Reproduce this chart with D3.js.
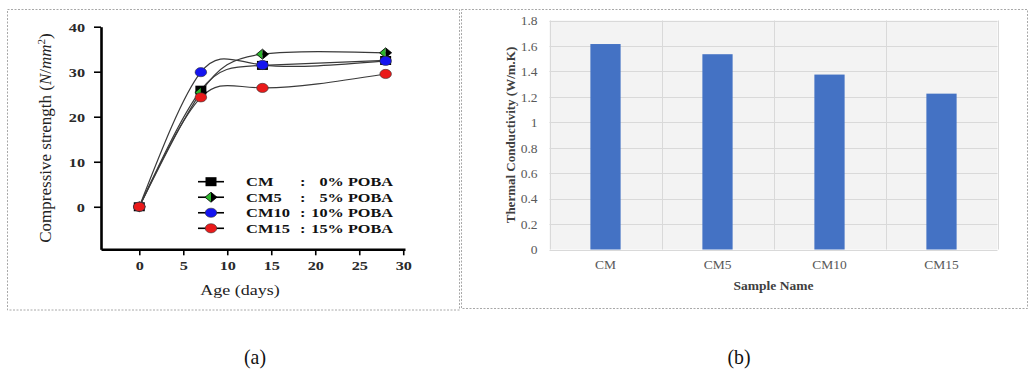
<!DOCTYPE html>
<html><head><meta charset="utf-8">
<script src="https://cdn.jsdelivr.net/npm/d3@7"></script>
<style>body{margin:0;background:#fff;} svg{display:block;}</style>
</head><body><svg id="c" width="1028" height="372"></svg>
<script>
// ---------- data ----------
const days = [0, 7, 14, 28];
const cmValues = [0, 25.9, 31.4, 32.5];
const cm5Values = [0, 25.4, 33.9, 34.2];
const cm10Values = [0, 29.9, 31.5, 32.4];
const cm15Values = [0, 24.3, 26.4, 29.5];
const seriesNames = ["CM", "CM5", "CM10", "CM15"];
const seriesLabels = ["0% POBA", "5% POBA", "10% POBA", "15% POBA"];
const strengthTicks = [0, 10, 20, 30, 40];
const ageTicks = [0, 5, 10, 15, 20, 25, 30];

const samples = ["CM", "CM5", "CM10", "CM15"];
const conductivity = [1.615, 1.535, 1.375, 1.225];
const conductivityTicks = [0, 0.2, 0.4, 0.6, 0.8, 1, 1.2, 1.4, 1.6, 1.8];
const conductivityTickLabels = ["0", "0.2", "0.4", "0.6", "0.8", "1", "1.2", "1.4", "1.6", "1.8"];

const svg = d3.select("#c");
const SERIF = "'Liberation Serif','Times New Roman',serif";

// ---------- panel borders ----------
svg.append("rect").attr("x", 7.5).attr("y", 9.5).attr("width", 452).attr("height", 300.5)
  .attr("fill", "none").attr("stroke", "#a8a8a8").attr("stroke-dasharray", "2,1.5");
svg.append("rect").attr("x", 461.5).attr("y", 9.5).attr("width", 566).attr("height", 299)
  .attr("fill", "none").attr("stroke", "#a8a8a8").attr("stroke-dasharray", "2,1.5");

// ---------- (a) line chart ----------
const x = d3.scaleLinear().domain([-4.35, 30.2]).range([101, 405]);
const y = d3.scaleLinear().domain([-9.45, 40]).range([249.3, 26.7]);

const series = [
  {name: "CM", values: cmValues, type: "square", color: "#000"},
  {name: "CM5", values: cm5Values, type: "diamond", color: "#2bb52b"},
  {name: "CM10", values: cm10Values, type: "circle", color: "#1414f0"},
  {name: "CM15", values: cm15Values, type: "circle", color: "#ea1a1a"}
];

const gA = svg.append("g");

const line = d3.line().curve(d3.curveNatural)
  .x((d, i) => x(days[i])).y(d => y(d));

series.forEach(s => {
  gA.append("path").attr("d", line(s.values)).attr("fill", "none")
    .attr("stroke", "#3a3a3a").attr("stroke-width", 1.2);
});

function marker(g, type, color, cx, cy) {
  if (type === "square") {
    g.append("rect").attr("x", cx - 5.5).attr("y", cy - 4.5).attr("width", 11).attr("height", 9)
      .attr("fill", "#000");
  } else if (type === "diamond") {
    g.append("path").attr("d", `M${cx - 6},${cy} L${cx},${cy - 5} L${cx},${cy + 5} Z`).attr("fill", color);
    g.append("path").attr("d", `M${cx},${cy - 5} L${cx + 6},${cy} L${cx},${cy + 5} Z`).attr("fill", "#000");
    g.append("path").attr("d", `M${cx - 6},${cy} L${cx},${cy - 5} L${cx + 6},${cy} L${cx},${cy + 5} Z`)
      .attr("fill", "none").attr("stroke", "#000").attr("stroke-width", 0.8);
  } else {
    g.append("ellipse").attr("cx", cx).attr("cy", cy).attr("rx", 5.8).attr("ry", 4.6)
      .attr("fill", color).attr("stroke", "#333").attr("stroke-width", 0.6);
  }
}

series.forEach(s => {
  s.values.forEach((v, i) => marker(gA, s.type, s.color, x(days[i]), y(v)));
});

// axes
const yAxisA = gA.append("g").attr("transform", `translate(${x(-4.35)},0)`)
  .call(d3.axisLeft(y).tickValues(strengthTicks).tickSize(7).tickSizeOuter(0).tickFormat(d3.format("d")));
const xAxisA = gA.append("g").attr("transform", `translate(0,${y(-9.45)})`)
  .call(d3.axisBottom(x).tickValues(ageTicks).tickSize(6).tickSizeOuter(0).tickFormat(d3.format("d")));
[yAxisA, xAxisA].forEach(a => {
  a.select(".domain").attr("stroke", "#000").attr("stroke-width", 2.6);
  a.selectAll(".tick line").attr("stroke", "#000").attr("stroke-width", 1.6);
  a.selectAll(".tick text").attr("fill", "#2a2a2a").style("font-family", SERIF)
    .style("font-size", "13px").style("font-weight", "bold");
});
yAxisA.selectAll(".tick text").attr("x", 0).attr("dy", "0.35em")
  .attr("text-anchor", "end").attr("transform", "translate(-16,0) scale(1.25,1)");
xAxisA.selectAll(".tick text").attr("y", 0).attr("dy", 0)
  .attr("transform", "translate(0,21) scale(1.25,1)");

// axis titles
gA.append("text").attr("transform", "translate(51,138) rotate(-90)")
  .attr("text-anchor", "middle").style("font-family", SERIF).style("font-size", "17px")
  .attr("fill", "#222")
  .call(t => {
    t.append("tspan").text("Compressive strength (");
    t.append("tspan").style("font-style", "italic").text("N");
    t.append("tspan").text("/");
    t.append("tspan").style("font-style", "italic").text("mm");
    t.append("tspan").attr("dy", -6).style("font-size", "11px").text("2");
    t.append("tspan").attr("dy", 6).text(")");
  });
gA.append("text").attr("transform", "translate(240,295) scale(1.2,1)")
  .attr("text-anchor", "middle").style("font-family", SERIF).style("font-size", "15px")
  .attr("fill", "#222").text("Age (days)");

// legend
const legY = d3.scalePoint().domain(seriesNames).range([181.7, 228.3]);
series.forEach((s, i) => {
  const ly = legY(s.name);
  gA.append("line").attr("x1", 198).attr("x2", 224).attr("y1", ly).attr("y2", ly)
    .attr("stroke", "#000").attr("stroke-width", 1.6);
  marker(gA, s.type, s.color, 211, ly);
  const st = t => t.style("font-family", SERIF).style("font-size", "12.5px").style("font-weight", "bold").attr("fill", "#111");
  gA.append("text").attr("transform", `translate(246,${ly + 4.5}) scale(1.32,1)`).call(st).text(s.name);
  gA.append("text").attr("transform", `translate(300,${ly + 4.5}) scale(1.32,1)`).call(st).text(":");
  gA.append("text").attr("transform", `translate(393,${ly + 4.5}) scale(1.3,1)`).attr("text-anchor", "end").call(st).text(seriesLabels[i]);
});

// ---------- (b) bar chart ----------
const xb = d3.scaleBand().domain(samples).range([549.5, 997.5]).padding(0);
const yb = d3.scaleLinear().domain([0, 1.8]).range([249.5, 20.5]);
const gB = svg.append("g");

gB.append("rect").attr("x", xb.range()[0]).attr("y", yb(1.8))
  .attr("width", xb.range()[1] - xb.range()[0]).attr("height", yb(0) - yb(1.8)).attr("fill", "#f3f3f3");

gB.append("g").selectAll("line").data(conductivityTicks).join("line")
  .attr("x1", xb.range()[0]).attr("x2", xb.range()[1])
  .attr("y1", d => Math.round(yb(d)) + 0.5).attr("y2", d => Math.round(yb(d)) + 0.5)
  .attr("stroke", "#d9d9d9").attr("stroke-width", 1);
const vEdges = samples.map(s => xb(s)).concat([xb.range()[1]]);
gB.append("g").selectAll("line").data(vEdges).join("line")
  .attr("x1", d => Math.round(d) + 0.5).attr("x2", d => Math.round(d) + 0.5)
  .attr("y1", yb(1.8)).attr("y2", yb(0))
  .attr("stroke", "#d9d9d9").attr("stroke-width", 1);

const barW = xb.bandwidth() * 0.27;
gB.append("g").selectAll("rect").data(samples).join("rect")
  .attr("x", d => xb(d) + xb.bandwidth() / 2 - barW / 2)
  .attr("y", (d, i) => yb(conductivity[i]))
  .attr("width", barW)
  .attr("height", (d, i) => yb(0) - yb(conductivity[i]))
  .attr("fill", "#4472c4");

const yAxisB = gB.append("g").attr("transform", `translate(${xb.range()[0]},0)`)
  .call(d3.axisLeft(yb).tickValues(conductivityTicks).tickSize(0).tickPadding(12)
    .tickFormat((d, i) => conductivityTickLabels[i]));
const xAxisB = gB.append("g").attr("transform", `translate(0,${yb(0)})`)
  .call(d3.axisBottom(xb).tickSize(0).tickPadding(10));
[yAxisB, xAxisB].forEach(a => {
  a.select(".domain").remove();
  a.selectAll(".tick text").attr("fill", "#595959").style("font-family", SERIF).style("font-size", "13.5px");
});

gB.append("text").attr("transform", `translate(515,${(yb(0) + yb(1.8)) / 2}) rotate(-90)`)
  .attr("text-anchor", "middle").style("font-family", SERIF).style("font-size", "13px")
  .style("font-weight", "bold").attr("fill", "#404040").text("Thermal Conductivity (W/m.K)");
gB.append("text").attr("x", (xb.range()[0] + xb.range()[1]) / 2).attr("y", 290)
  .attr("text-anchor", "middle").style("font-family", SERIF).style("font-size", "13.5px")
  .style("font-weight", "bold").attr("fill", "#404040").text("Sample Name");

// ---------- captions ----------
svg.append("text").attr("transform", "translate(255,364) scale(0.9,1)").attr("text-anchor", "middle")
  .style("font-family", SERIF).style("font-size", "22px").attr("fill", "#111").text("(a)");
svg.append("text").attr("transform", "translate(739,364) scale(0.9,1)").attr("text-anchor", "middle")
  .style("font-family", SERIF).style("font-size", "22px").attr("fill", "#111").text("(b)");
</script></body></html>
